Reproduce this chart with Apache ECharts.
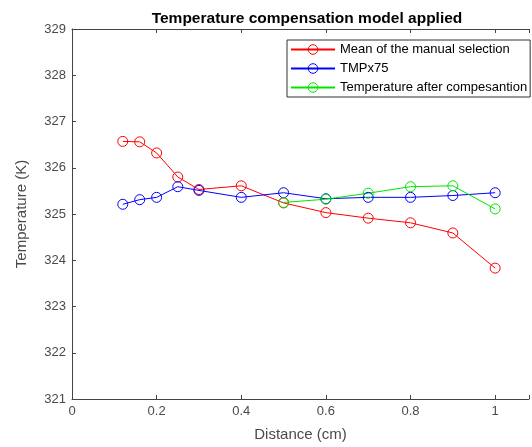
<!DOCTYPE html>
<html>
<head>
<meta charset="utf-8">
<script src="https://cdn.jsdelivr.net/npm/echarts@6/dist/echarts.min.js"></script>
<style>
  html, body { margin: 0; padding: 0; background: #fff; }
  #main { width: 532px; height: 447px; }
</style>
</head>
<body>
<div id="main"></div>
<script>
// 数据
var distance = [0.12, 0.16, 0.2, 0.25, 0.3, 0.4, 0.5, 0.6, 0.7, 0.8, 0.9, 1.0];
var manualMean = [326.57, 326.56, 326.32, 325.80, 325.53, 325.61, 325.24, 325.03, 324.91, 324.81, 324.59, 323.83];
var tmpx75 = [325.21, 325.31, 325.36, 325.59, 325.51, 325.36, 325.46, 325.33, 325.36, 325.36, 325.40, 325.46];
var compDistance = [0.5, 0.6, 0.7, 0.8, 0.9, 1.0];
var compensated = [325.25, 325.32, 325.45, 325.59, 325.61, 325.11];
var seriesNames = ['Mean of the manual selection', 'TMPx75', 'Temperature after compesantion'];

function pairs(xs, ys) {
    return xs.map(function (x, i) { return [x, ys[i]]; });
}

var myChart = echarts.init(document.getElementById('main'));

function lineSeries(name, data, color) {
    return {
        name: name,
        type: 'line',
        data: data,
        symbol: 'circle',
        symbolSize: 10,
        lineStyle: { color: color, width: 1 },
        itemStyle: { color: 'rgba(255,255,255,0)', borderColor: color, borderWidth: 1 },
        animation: false
    };
}

var axisColor = '#444';
var labelColor = '#4a4a4a';
var font = 'Liberation Sans, Arial, sans-serif';

var option = {
    backgroundColor: '#fff',
    title: {
        text: 'Temperature compensation model applied',
        left: 302,
        textAlign: 'center',
        top: 6,
        textStyle: { fontSize: 15.5, fontWeight: 'bold', color: '#000', fontFamily: font }
    },
    legend: {
        orient: 'vertical',
        left: 287,
        top: 40,
        itemWidth: 44,
        itemHeight: 12,
        itemGap: 6,
        padding: [3, 3, 3, 3],
        borderColor: '#333',
        borderWidth: 1,
        backgroundColor: '#fff',
        itemStyle: { borderWidth: 1 },
        textStyle: { fontSize: 13, color: '#000', fontFamily: font },
        data: seriesNames
    },
    grid: { left: 72, right: 0, top: 29, bottom: 46, containLabel: false },
    xAxis: [{
        type: 'value',
        min: 0,
        max: 1.08,
        interval: 0.2,
        name: 'Distance (cm)',
        nameLocation: 'middle',
        nameGap: 28,
        nameTextStyle: { fontSize: 15, color: labelColor, fontFamily: font },
        axisLine: { lineStyle: { color: axisColor } },
        axisTick: { inside: true, length: 4, lineStyle: { color: axisColor } },
        axisLabel: {
            color: labelColor, fontSize: 13, fontFamily: font, margin: 6,
            formatter: function (v) { return (Math.abs(v * 5 - Math.round(v * 5)) < 1e-6) ? String(+v.toFixed(1)) : ''; }
        },
        splitLine: { show: false }
    }, {
        type: 'value',
        position: 'top',
        min: 0,
        max: 1.08,
        interval: 0.2,
        axisLine: { lineStyle: { color: axisColor } },
        axisTick: { inside: true, length: 4, lineStyle: { color: axisColor } },
        axisLabel: { show: false },
        splitLine: { show: false }
    }],
    yAxis: {
        type: 'value',
        min: 321,
        max: 329,
        interval: 1,
        name: 'Temperature (K)',
        nameLocation: 'middle',
        nameGap: 43,
        nameTextStyle: { fontSize: 15, color: labelColor, fontFamily: font },
        axisLine: { show: true, lineStyle: { color: axisColor } },
        axisTick: { show: true, inside: true, length: 4, lineStyle: { color: axisColor } },
        axisLabel: { color: labelColor, fontSize: 13, fontFamily: font, margin: 6 },
        splitLine: { show: false }
    },
    series: [
        lineSeries(seriesNames[0], pairs(distance, manualMean), '#ff0000'),
        lineSeries(seriesNames[1], pairs(distance, tmpx75), '#0000ff'),
        lineSeries(seriesNames[2], pairs(compDistance, compensated), '#00e600')
    ]
};
myChart.setOption(option);
</script>
</body>
</html>
